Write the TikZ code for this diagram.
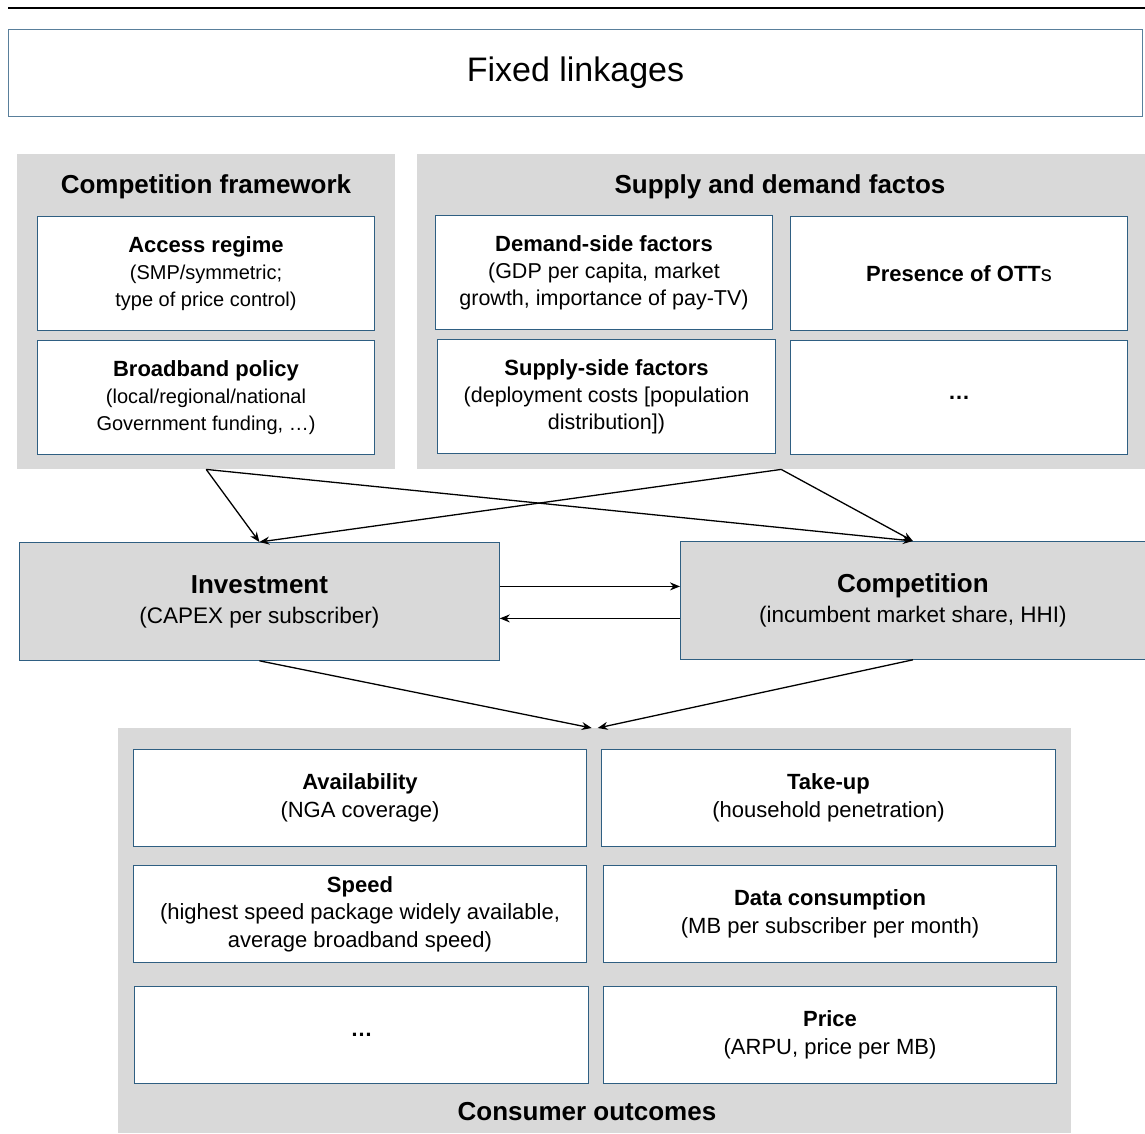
\documentclass[tikz,border=0pt]{standalone}
\usepackage{fontspec}
\setmainfont{Liberation Sans}
\usetikzlibrary{arrows.meta}
\definecolor{panelgray}{HTML}{D9D9D9}
\definecolor{boxline}{HTML}{2F5F82}
\newcommand{\boxat}[7]{\node[#6, minimum width=#4-#2, minimum height=#5-#3] (#1) at (#2,#3) {#7};}
\newcommand{\ttl}[1]{{\fontsize{22}{27}\selectfont\bfseries #1}}
\begin{document}
\begin{tikzpicture}[x=1pt,y=-1pt,
  panel/.style={fill=panelgray, draw=none, inner sep=0pt, anchor=north west},
  wbox/.style={fill=white, draw=boxline, line width=1pt, inner sep=0pt, anchor=north west, align=center, font=\fontsize{20}{27}\selectfont},
  wboxb/.style={wbox, font=\fontsize{21.5}{27}\selectfont},
  wboxc/.style={wbox, font=\fontsize{22}{27.5}\selectfont},
  gbox/.style={fill=panelgray, draw=boxline, line width=0.8pt, inner sep=0pt, anchor=north west, align=center, font=\fontsize{22.5}{30}\selectfont},
  head/.style={font=\fontsize{26}{30}\selectfont\bfseries, inner sep=0pt},
  arr/.style={-{Stealth[length=10pt,width=8pt]}, line width=1.3pt, black}]
\useasboundingbox (0,0) rectangle (1145,1133);
% top rule
\draw[line width=2.2pt, black] (8,8) -- (1145,8);
% title
\boxat{title}{8}{29}{1142}{116}{wbox, draw=boxline!80, font=\fontsize{34}{40}\selectfont}{Fixed linkages}
% panels
\boxat{cf}{17}{154}{395}{469}{panel}{}
\boxat{sd}{417}{154}{1145}{469}{panel}{}
\node[head] (cfh) at (206,187) {Competition framework};
\node[head] (sdh) at (780,187) {Supply and demand factos};
% competition framework boxes
\boxat{acc}{37}{216}{374}{330}{wbox}{\ttl{Access regime}\\(SMP/symmetric;\\type of price control)}
\boxat{bbp}{37}{340}{374}{454}{wbox}{\ttl{Broadband policy}\\(local/regional/national\\Government funding, …)}
% supply and demand boxes
\boxat{dem}{435}{215}{772}{329}{wboxb}{\ttl{Demand-side factors}\\(GDP per capita, market\\growth, importance of pay-TV)}
\boxat{ott}{790}{216}{1127}{330}{wboxb}{\ttl{Presence of OTT}{\fontsize{22}{27}\selectfont s}}
\boxat{sup}{437}{339}{775}{453}{wboxb}{\ttl{Supply-side factors}\\(deployment costs [population\\distribution])}
\boxat{sdx}{790}{340}{1127}{454}{wboxb}{\ttl{…}}
% middle
\boxat{inv}{19}{542}{499}{660}{gbox}{{\fontsize{26}{30}\selectfont\bfseries Investment}\\(CAPEX per subscriber)}
\boxat{comp}{680}{541}{1145}{659}{gbox}{{\fontsize{26}{30}\selectfont\bfseries Competition}\\(incumbent market share, HHI)}
% consumer outcomes
\boxat{cons}{118}{728}{1071}{1133}{panel}{}
\node[head] (consh) at (587,1112) {Consumer outcomes};
\boxat{avail}{133}{749}{586}{846}{wboxc}{\ttl{Availability}\\(NGA coverage)}
\boxat{take}{601}{749}{1055}{846}{wboxc}{\ttl{Take-up}\\(household penetration)}
\boxat{speed}{133}{865}{586}{962}{wboxc}{\ttl{Speed}\\(highest speed package widely available,\\average broadband speed)}
\boxat{data}{603}{865}{1056}{962}{wboxc}{\ttl{Data consumption}\\(MB per subscriber per month)}
\boxat{cox}{134}{986}{588}{1083}{wboxc}{\ttl{…}}
\boxat{price}{603}{986}{1056}{1083}{wboxc}{\ttl{Price}\\(ARPU, price per MB)}
% arrows
\draw[arr] (cf.south) -- (inv.north);
\draw[arr] (cf.south) -- (comp.north);
\draw[arr] (sd.south) -- (inv.north);
\draw[arr] (sd.south) -- (comp.north);
\draw[arr] ([yshift=15pt]inv.east) -- ([yshift=14pt]comp.west);
\draw[arr] ([yshift=-18pt]comp.west) -- ([yshift=-17pt]inv.east);
\draw[arr] (inv.south) -- ([xshift=-3pt]cons.north);
\draw[arr] (comp.south) -- ([xshift=3pt]cons.north);
\end{tikzpicture}
\end{document}
